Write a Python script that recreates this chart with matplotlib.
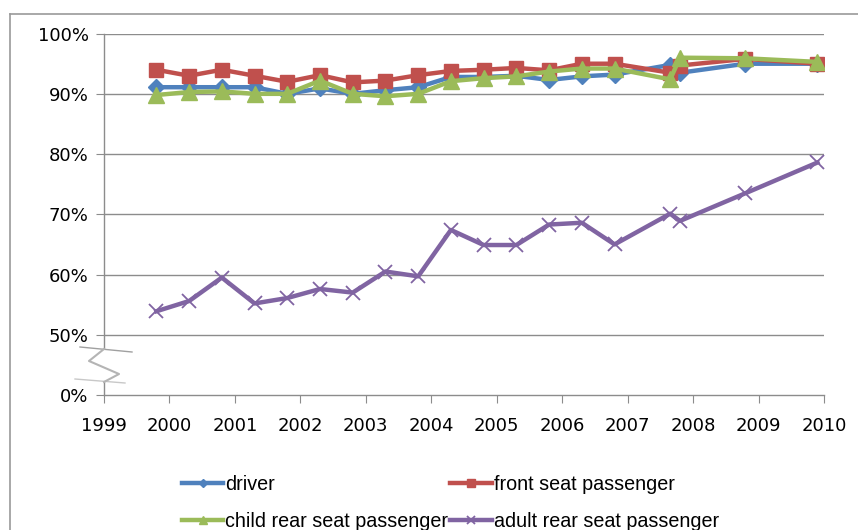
import matplotlib.pyplot as plt
from matplotlib.lines import Line2D
from matplotlib.patches import Polygon

# survey dates (fractional years) and belt-wearing rates in %
x_years = [1999.8, 2000.3, 2000.8, 2001.3, 2001.8, 2002.3, 2002.8, 2003.3, 2003.8,
           2004.3, 2004.8, 2005.3, 2005.8, 2006.3, 2006.8, 2007.65, 2007.8, 2008.8, 2009.9]
driver = [91.1, 91.1, 91.1, 91.1, 90.0, 90.9, 90.0, 90.6, 91.1,
          92.8, 92.8, 93.0, 92.3, 92.9, 93.2, 94.8, 93.5, 95.0, 95.0]
front = [94.0, 93.0, 94.0, 93.0, 92.0, 93.1, 91.9, 92.2, 93.1,
         93.8, 94.0, 94.3, 93.9, 95.0, 95.0, 93.5, 94.7, 95.8, 95.0]
child = [89.8, 90.3, 90.4, 90.0, 90.0, 92.2, 90.0, 89.6, 90.0,
         92.1, 92.6, 92.9, 93.7, 94.2, 94.2, 92.4, 96.0, 95.9, 95.3]
adult = [53.9, 55.6, 59.5, 55.2, 56.1, 57.6, 57.0, 60.5, 59.7,
         67.4, 64.9, 64.9, 68.3, 68.6, 65.0, 70.1, 68.9, 73.5, 78.6]

year_ticks = list(range(1999, 2011))
y_ticks = [40, 50, 60, 70, 80, 90, 100]
y_labels = ["0%", "50%", "60%", "70%", "80%", "90%", "100%"]

W, H = 858, 530
fig = plt.figure(figsize=(W / 100, H / 100), dpi=100)
ax = fig.add_axes([104 / W, 1 - 395 / H, 720 / W, (395 - 33.6) / H])

grid_c = "#8c8c8c"
for v in y_ticks[1:]:
    ax.axhline(v, color=grid_c, lw=1.0, zorder=1)

l_drv, = ax.plot(x_years, driver, color="#4F81BD", lw=3.2, marker="D", ms=8,
                 label="driver", zorder=3)
l_frt, = ax.plot(x_years, front, color="#C0504D", lw=3.2, marker="s", ms=10.5,
                 label="front seat passenger", zorder=4)
l_chd, = ax.plot(x_years, child, color="#9BBB59", lw=3.2, marker="^", ms=11,
                 label="child rear seat passenger", zorder=5)
l_adl, = ax.plot(x_years, adult, color="#8064A2", lw=3.2, marker="x", ms=10, mew=1.3,
                 label="adult rear seat passenger", zorder=3)

ax.set_xlim(1999, 2010)
ax.set_ylim(40, 100)
ax.set_xticks(year_ticks)
ax.set_xticklabels([str(y) for y in year_ticks])
ax.set_yticks(y_ticks)
ax.set_yticklabels(y_labels)

for s in ["top", "right"]:
    ax.spines[s].set_visible(False)
for s in ["left", "bottom"]:
    ax.spines[s].set_color(grid_c)
    ax.spines[s].set_linewidth(1.0)
ax.tick_params(axis="both", direction="out", length=6, color=grid_c,
               labelsize=13, labelcolor="black")
ax.tick_params(axis="x", pad=10)
ax.tick_params(axis="y", pad=5)

# axis break mark between 0% and 50%
def fx(px):
    return px / W

def fy(py):
    return 1 - py / H

band = Polygon([(fx(78), fy(347)), (fx(132), fy(352)), (fx(127), fy(384)), (fx(73), fy(379))],
               closed=True, transform=fig.transFigure, facecolor="white",
               edgecolor="none", zorder=10)
fig.add_artist(band)
fig.add_artist(Line2D([fx(80), fx(132)], [fy(347), fy(352)], transform=fig.transFigure,
                      color="#a0a0a0", lw=1.0, zorder=11))
fig.add_artist(Line2D([fx(75), fx(125)], [fy(379), fy(383)], transform=fig.transFigure,
                      color="#c8c8c8", lw=1.0, zorder=11))
fig.add_artist(Line2D([fx(104), fx(89), fx(119), fx(104)],
                      [fy(349), fy(361), fy(374), fy(382)], transform=fig.transFigure,
                      color="#b4b4b4", lw=1.5, zorder=11))

# chart area frame (top and left edges visible)
fig.add_artist(Line2D([fx(10), fx(860)], [fy(14), fy(14)], transform=fig.transFigure,
                      color="#9a9a9a", lw=1.2))
fig.add_artist(Line2D([fx(10), fx(10)], [fy(14), fy(540)], transform=fig.transFigure,
                      color="#9a9a9a", lw=1.2))

# column-major fill: driver / child in col 1, front / adult in col 2
fig.legend([l_drv, l_chd, l_frt, l_adl],
           [l_drv.get_label(), l_chd.get_label(), l_frt.get_label(), l_adl.get_label()],
           loc="upper left", bbox_to_anchor=(fx(172), fy(465)), ncol=2,
           frameon=False, borderpad=0, handlelength=2.1, handletextpad=0.1,
           columnspacing=0.1, labelspacing=0.92, markerscale=0.55,
           prop={"family": "Liberation Sans", "size": 14.2})

fig.savefig("out.png", dpi=100, facecolor="white")
